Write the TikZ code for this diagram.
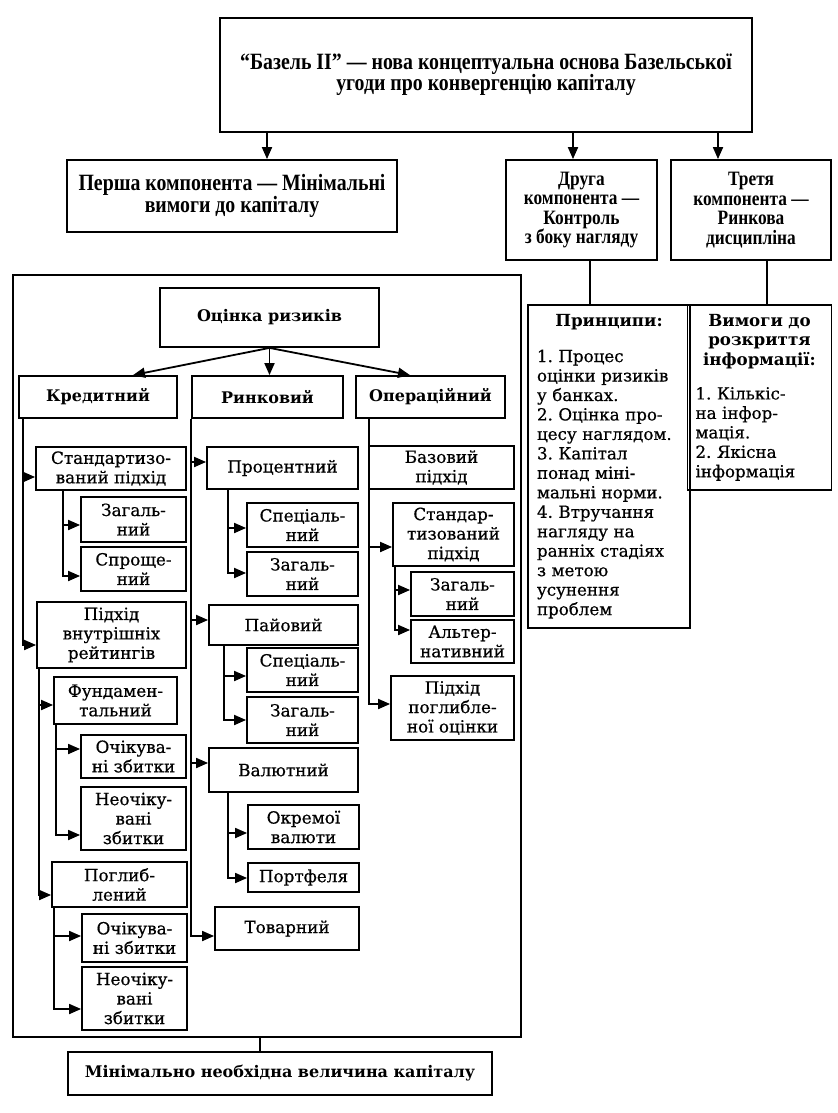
\documentclass[tikz,border=0pt]{standalone}
\usepackage{fontspec}
\setmainfont{DejaVu Serif}
\newfontfamily\bodyf[FakeBold=0.6]{DejaVu Serif}
\newfontfamily\condf[FakeStretch=0.85]{Liberation Serif}
\usetikzlibrary{arrows.meta}
\frenchspacing
\newcommand\bx[7][box]{%
  \pgfmathsetmacro\mybw{(#5-#3)*0.75}%
  \pgfmathsetmacro\mybh{(#6-#4)*0.75}%
  \node[#1,minimum width=\mybw pt,minimum height=\mybh pt] (#2) at ({(#3+#5)/2},{(#4+#6)/2}) {#7};}
\begin{document}
\begin{tikzpicture}[x=0.75pt,y=-0.75pt,
  box/.style={draw,line width=1.35pt,inner sep=0.5pt,align=center,font=\fontsize{12.6}{14.6}\selectfont\bodyf},
  hdr/.style={box,font=\fontsize{12}{14.4}\selectfont\rmfamily\bfseries},
  cond/.style={box,font=\fontsize{17.5}{16}\selectfont\condf\bfseries},
  condsm/.style={box,font=\fontsize{15.3}{14.6}\selectfont\condf\bfseries},
  lst/.style={draw,line width=1.35pt,inner xsep=6pt,inner ysep=2pt,align=left,font=\fontsize{12.5}{14.6}\selectfont\bodyf},
  arr/.style={line width=1.35pt,-{Triangle[length=9pt,width=7.5pt]}},
  ln/.style={line width=1.35pt}]
\useasboundingbox (0,0) rectangle (838,1113);
% top level
\bx[cond]{top}{220}{18}{752}{132}{“Базель II” — нова концептуальна основа Базельської\\угоди про конвергенцію капіталу}
\bx[cond]{persha}{67}{160}{397}{232}{Перша компонента — Мінімальні\\вимоги до капіталу}
\bx[condsm]{druha}{506}{160}{657}{260}{Друга\\компонента —\\Контроль\\з боку нагляду}
\bx[condsm]{tretia}{671}{160}{831}{260}{Третя\\компонента —\\Ринкова\\дисципліна}
\draw[arr] (top.south -| 267,0) -- (persha.north -| 267,0);
\draw[arr] (top.south -| 573,0) -- (druha.north -| 573,0);
\draw[arr] (top.south -| 718,0) -- (tretia.north -| 718,0);
% right lists
\bx[lst,text width=108pt]{pryn}{528}{305}{690}{628}{\makebox[\linewidth]{\rmfamily\bfseries Принципи:}\\[12pt]1. Процес\\оцінки ризиків\\у банках.\\2. Оцінка про-\\цесу наглядом.\\3. Капітал\\понад міні-\\мальні норми.\\4. Втручання\\нагляду на\\ранніх стадіях\\з метою\\усунення\\проблем}
\bx[lst,text width=96pt]{vymohy}{698}{305}{821}{490}{\makebox[\linewidth]{\rmfamily\bfseries Вимоги до}\\\makebox[\linewidth]{\rmfamily\bfseries розкриття}\\\makebox[\linewidth]{\rmfamily\bfseries інформації:}\\[11pt]1. Кількіс-\\на інфор-\\мація.\\2. Якісна\\інформація}
\draw[ln] (druha.south -| 590,0) -- (pryn.north -| 590,0);
\draw[ln] (tretia.south -| 767,0) -- (vymohy.north -| 767,0);
% frame
\bx{frame}{13}{275}{521}{1037}{}
\bx[hdr]{minb}{68}{1052}{492}{1095}{Мінімально необхідна величина капіталу}
\draw[ln] (frame.south -| 260,0) -- (minb.north -| 260,0);
% risk assessment
\bx[hdr]{ocin}{160}{288}{379}{347}{Оцінка ризиків}
\bx[hdr]{kred}{19}{376}{177}{418}{Кредитний}
\bx[hdr]{rynk}{192}{376}{343}{418}{Ринковий}
\bx[hdr]{oper}{356}{376}{505}{418}{Операційний}
\draw[arr] (ocin.south) -- (kred.north -| 133,0);
\draw[arr] (ocin.south) -- (rynk.north -| ocin.south);
\draw[arr] (ocin.south) -- (oper.north -| 410,0);
% credit column
\bx{std1}{36}{447}{186}{490}{Стандартизо-\\ваний підхід}
\bx{zag1}{81}{497}{186}{542}{Загаль-\\ний}
\bx{spr}{81}{547}{186}{591}{Спроще-\\ний}
\bx{pvr}{37}{602}{186}{668}{Підхід\\внутрішніх\\рейтингів}
\bx{fund}{54}{677}{177}{724}{Фундамен-\\тальний}
\bx{och1}{81}{735}{186}{778}{Очікува-\\ні збитки}
\bx{neo1}{81}{787}{186}{850}{Неочіку-\\вані\\збитки}
\bx{pogl}{52}{862}{187}{907}{Поглиб-\\лений}
\bx{och2}{82}{914}{187}{962}{Очікува-\\ні збитки}
\bx{neo2}{82}{967}{187}{1030}{Неочіку-\\вані\\збитки}
\draw[arr] (kred.south -| 23,0) |- (std1.west |- 0,477);
\draw[arr] (kred.south -| 23,0) |- (pvr.west |- 0,645);
\draw[arr] (std1.south -| 63,0) |- (zag1.west |- 0,525);
\draw[arr] (std1.south -| 63,0) |- (spr.west |- 0,576);
\draw[arr] (pvr.south -| 39,0) |- (fund.west |- 0,705);
\draw[arr] (pvr.south -| 39,0) |- (pogl.west |- 0,895);
\draw[arr] (fund.south -| 56,0) |- (och1.west |- 0,749);
\draw[arr] (fund.south -| 56,0) |- (neo1.west |- 0,835);
\draw[arr] (pogl.south -| 54,0) |- (och2.west |- 0,936);
\draw[arr] (pogl.south -| 54,0) |- (neo2.west |- 0,1009);
% market column
\bx{proc}{207}{447}{358}{489}{Процентний}
\bx{spec1}{247}{503}{358}{547}{Спеціаль-\\ний}
\bx{zag2}{247}{552}{358}{596}{Загаль-\\ний}
\bx{pai}{209}{605}{358}{645}{Пайовий}
\bx{spec2}{247}{648}{358}{692}{Спеціаль-\\ний}
\bx{zag3}{247}{697}{358}{743}{Загаль-\\ний}
\bx{val}{209}{748}{358}{792}{Валютний}
\bx{okr}{248}{805}{359}{849}{Окремої\\валюти}
\bx{port}{248}{863}{359}{892}{Портфеля}
\bx{tov}{215}{907}{359}{950}{Товарний}
\draw[arr] (rynk.south west) |- (proc.west |- 0,462);
\draw[arr] (rynk.south west) |- (pai.west |- 0,620);
\draw[arr] (rynk.south west) |- (val.west |- 0,763);
\draw[arr] (rynk.south west) |- (tov.west |- 0,936);
\draw[arr] (proc.south -| 228,0) |- (spec1.west |- 0,528);
\draw[arr] (proc.south -| 228,0) |- (zag2.west |- 0,573);
\draw[arr] (pai.south -| 224,0) |- (spec2.west |- 0,676);
\draw[arr] (pai.south -| 224,0) |- (zag3.west |- 0,720);
\draw[arr] (val.south -| 228,0) |- (okr.west |- 0,833);
\draw[arr] (val.south -| 228,0) |- (port.west |- 0,878);
% operational column
\bx{baz}{369}{446}{514}{489}{Базовий\\підхід}
\bx{std2}{393}{503}{514}{566}{Стандар-\\тизований\\підхід}
\bx{zag4}{411}{572}{514}{616}{Загаль-\\ний}
\bx{alt}{411}{620}{514}{663}{Альтер-\\нативний}
\bx{pgo}{391}{676}{514}{740}{Підхід\\поглибле-\\ної оцінки}
\draw[arr] (oper.south -| 369,0) |- (std2.west |- 0,547);
\draw[arr] (oper.south -| 369,0) |- (pgo.west |- 0,704);
\draw[arr] (std2.south -| 395,0) |- (zag4.west |- 0,590);
\draw[arr] (std2.south -| 395,0) |- (alt.west |- 0,630);
\end{tikzpicture}
\end{document}
